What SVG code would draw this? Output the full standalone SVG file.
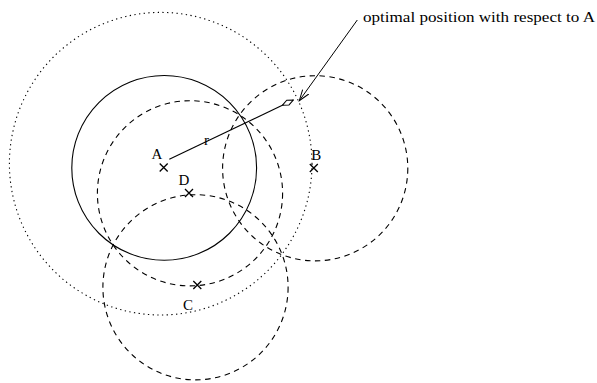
<svg xmlns="http://www.w3.org/2000/svg" width="597" height="383" viewBox="0 0 597 383">
<style>
  .solid{fill:none;stroke:#000;stroke-width:1.1}
  .dashed{fill:none;stroke:#000;stroke-width:1.1;stroke-dasharray:5.5 4.5}
  .dotted{fill:none;stroke:#000;stroke-width:1.1;stroke-dasharray:1.3 3.4}
  .cross{stroke:#000;stroke-width:1.3;fill:none}
  .lbl{font-family:"Liberation Serif","Times New Roman",serif;font-size:15px;fill:#000;text-anchor:middle}
  .note{font-family:"Liberation Serif","Times New Roman",serif;font-size:14px;fill:#000}
</style>
<defs>
  <marker id="open" markerUnits="userSpaceOnUse" markerWidth="14" markerHeight="10" refX="11" refY="5" orient="auto" viewBox="0 0 14 10">
    <path d="M0,1.2 L11,5 L0,8.8" fill="none" stroke="#000" stroke-width="1"/>
  </marker>
  <marker id="diamond" markerUnits="userSpaceOnUse" markerWidth="14" markerHeight="8" refX="13" refY="4" orient="auto" viewBox="0 0 14 8">
    <path d="M1,4 L7,1.4 L13,4 L7,6.6 Z" fill="#fff" stroke="#000" stroke-width="1"/>
  </marker>
</defs>
<g id="circles">
  <circle id="circle-dotted" class="dotted" cx="160.7" cy="163.7" r="151.3"/>
  <circle id="circle-A" class="solid" cx="164.2" cy="167.9" r="92.4"/>
  <circle id="circle-D" class="dashed" cx="190" cy="193.3" r="92.6"/>
  <circle id="circle-B" class="dashed" cx="315.2" cy="168.3" r="92.6"/>
  <circle id="circle-C" class="dashed" cx="195.5" cy="287.3" r="92.6"/>
</g>
<g id="node-A">
  <path class="cross" d="M159.7,163.5 L167.7,171.5 M167.7,163.5 L159.7,171.5"/>
  <text class="lbl" x="157" y="158.5">A</text>
</g>
<g id="node-B">
  <path class="cross" d="M309.8,164 L317.8,172 M317.8,164 L309.8,172"/>
  <text class="lbl" x="316.3" y="159.5">B</text>
</g>
<g id="node-C">
  <path class="cross" d="M193.3,281 L201.3,289 M201.3,281 L193.3,289"/>
  <text class="lbl" x="188" y="310">C</text>
</g>
<g id="node-D">
  <path class="cross" d="M185,189 L193,197 M193,189 L185,197"/>
  <text class="lbl" x="184" y="185.3">D</text>
</g>
<g id="connectors">
  <line id="radius" x1="169.3" y1="159.3" x2="293.3" y2="100" stroke="#000" stroke-width="1.1" marker-end="url(#diamond)"/>
  <text class="lbl" x="206.5" y="145">r</text>
  <line id="leader" x1="357.3" y1="20" x2="299.3" y2="100.7" stroke="#000" stroke-width="1" marker-end="url(#open)"/>
</g>
<g id="annotation">
  <text class="note" x="363" y="21.7" textLength="232" lengthAdjust="spacingAndGlyphs">optimal position with respect to A</text>
</g>
</svg>
